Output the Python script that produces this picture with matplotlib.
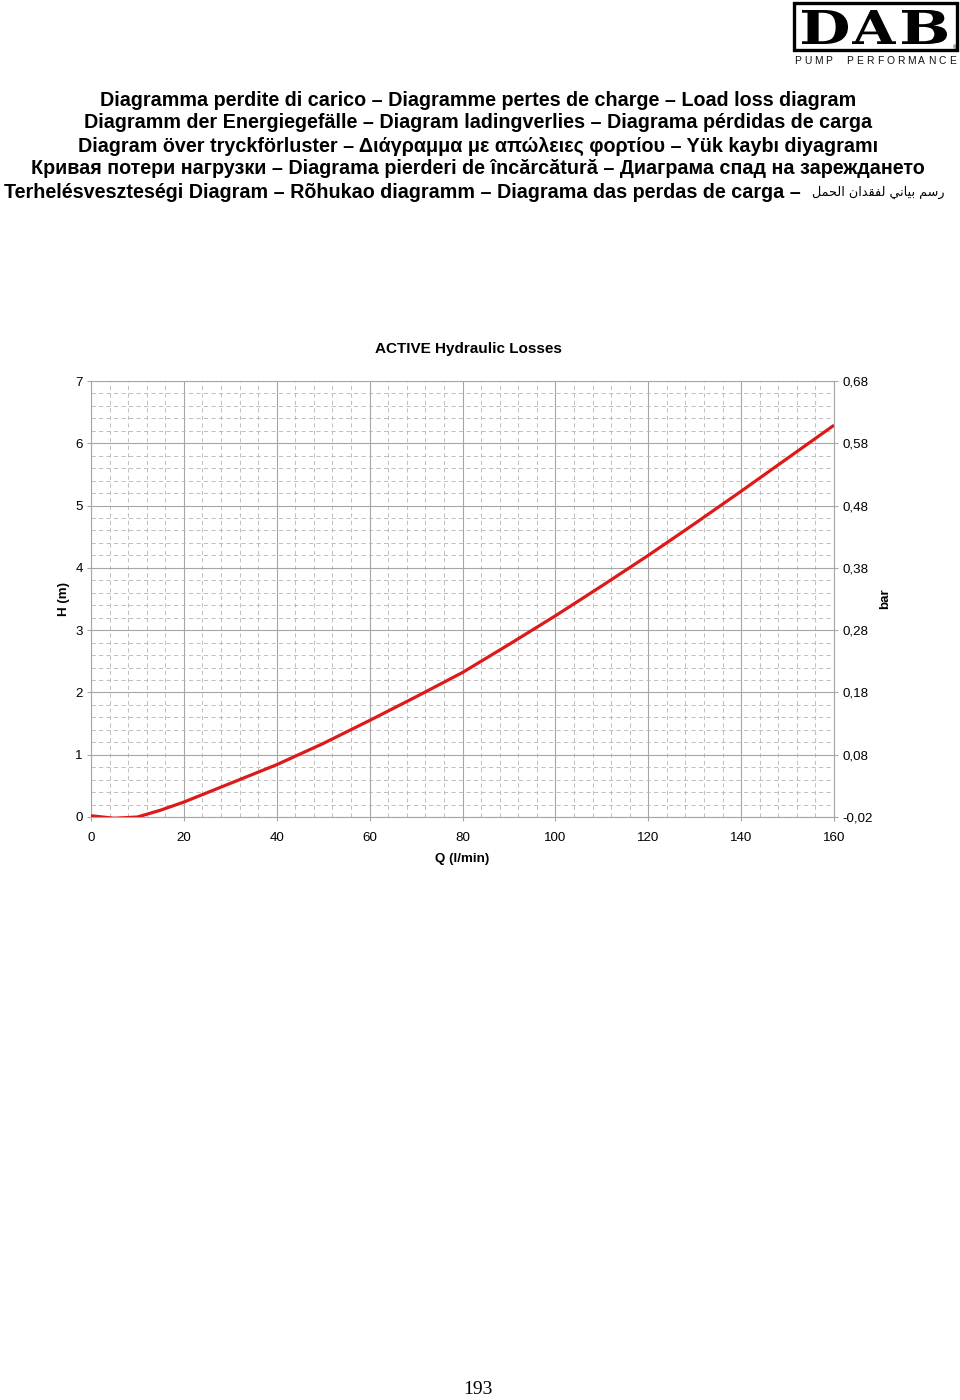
import matplotlib as mpl

mpl.use("Agg")

import matplotlib.pyplot as plt
from matplotlib.font_manager import FontProperties
from matplotlib.patches import PathPatch, Rectangle
from matplotlib.textpath import TextPath
from matplotlib.ticker import MultipleLocator
from matplotlib.transforms import Affine2D

W, H = 960, 1400

# curve (Q in l/min, H in m)
flow = [0, 5, 10, 15, 20, 30, 40, 50, 60, 70, 80, 90, 100, 110, 120, 130, 140, 150, 160]
head = [0.02, -0.02, 0.0, 0.11, 0.24, 0.54, 0.84, 1.18, 1.55, 1.93, 2.32, 2.77, 3.23,
        3.71, 4.20, 4.71, 5.23, 5.76, 6.29]

x_ticks = [0, 20, 40, 60, 80, 100, 120, 140, 160]
y_ticks = [0, 1, 2, 3, 4, 5, 6, 7]
bar_labels = ["-0,02", "0,08", "0,18", "0,28", "0,38", "0,48", "0,58", "0,68"]

title_lines = [
    "Diagramma perdite di carico – Diagramme pertes de charge – Load loss diagram",
    "Diagramm der Energiegefälle – Diagram ladingverlies – Diagrama pérdidas de carga",
    "Diagram över tryckförluster – Διάγραμμα με απώλειες φορτίου – Yük kaybı diyagramı",
    "Кривая потери нагрузки – Diagrama pierderi de încărcătură – Диаграма спад на зареждането",
]
last_line = "Terhelésveszteségi Diagram – Rõhukao diagramm – Diagrama das perdas de carga –"
# Arabic, pre-shaped (presentation forms) in visual order since matplotlib has no bidi
arabic = ("\uFEDE\uFEE4\uFEA4\uFEDF\uFE8D \uFEE5\uFE8D\uFEAA\uFED8\uFED4\uFEDF "
          "\uFEF2\uFEE7\uFE8E\uFEF4\uFE91 \uFEE2\uFEB3\uFEAD")

SANS = ["Liberation Sans", "DejaVu Sans"]
GRID_MAJOR = "#a6a6a6"
GRID_MINOR = "#b4b4b4"
RED = "#dc1a1a"


def px(x):
    return x / W


def py(y):
    return 1 - y / H


fig = plt.figure(figsize=(W / 100, H / 100), dpi=100)

# logo drawn in a pixel-space overlay
logo = fig.add_axes([0, 0, 1, 1], zorder=5)
logo.set_xlim(0, W)
logo.set_ylim(H, 0)
logo.axis("off")
logo.add_patch(Rectangle((794, 3), 163, 47, fill=False, ec="black", lw=2.4))
letter_font = FontProperties(family="DejaVu Serif", weight="bold")
for ch, (x0, x1) in zip("DAB", [(802, 848), (852, 896), (902, 947)]):
    tp = TextPath((0, 0), ch, size=1, prop=letter_font)
    bb = tp.get_extents()
    tr = (Affine2D().translate(-bb.x0, -bb.y0)
          .scale((x1 - x0) / bb.width, -34 / bb.height)
          .translate(x0, 44))
    logo.add_patch(PathPatch(tr.transform_path(tp), fc="black", ec="none"))
logo.text(955, 48, "®", ha="center", va="center", fontsize=4, family=SANS)
for i, ch in enumerate("PUMP PERFORMANCE"):
    logo.text(798 + i * 10.3, 61, ch, ha="center", va="center", fontsize=7.4,
              family=SANS, color="#111111")

# multilingual title
for i, line in enumerate(title_lines):
    fig.text(px(478), py(100 + i * 23), line, ha="center", va="center", fontsize=14.2,
             family=SANS, weight="bold")
fig.text(px(801), py(192), last_line, ha="right", va="center", fontsize=14.2,
         family=SANS, weight="bold")
fig.text(px(812), py(192), arabic, ha="left", va="center", fontsize=9.2,
         family=["DejaVu Sans"])

# chart
ax = fig.add_axes([px(91), py(817), px(834) - px(91), py(381) - py(817)])
ax.plot(flow, head, color=RED, lw=2.3, solid_capstyle="butt", zorder=3)
ax.set_xlim(0, 160)
ax.set_ylim(0, 7)
ax.set_xticks(x_ticks)
ax.set_yticks(y_ticks)
ax.xaxis.set_minor_locator(MultipleLocator(4))
ax.yaxis.set_minor_locator(MultipleLocator(0.2))
ax.grid(which="major", color=GRID_MAJOR, lw=0.8, ls="-")
ax.grid(which="minor", color=GRID_MINOR, lw=0.6, ls=(0, (5, 4)))
ax.set_axisbelow(True)
for s in ax.spines.values():
    s.set_color(GRID_MAJOR)
    s.set_linewidth(0.8)
ax.tick_params(which="major", length=3, color=GRID_MAJOR, labelsize=9.6, pad=3)
ax.tick_params(axis="x", which="major", pad=8)
ax.tick_params(which="minor", length=0)
for lab in ax.get_xticklabels() + ax.get_yticklabels():
    lab.set_family(SANS)
ax.set_xlabel("Q (l/min)", fontsize=9.6, weight="bold", family=SANS, labelpad=6)
ax.set_ylabel("H (m)", fontsize=9.6, weight="bold", family=SANS, labelpad=4)
fig.text(px(468), py(349), "ACTIVE Hydraulic Losses", ha="center", va="center",
         fontsize=11, weight="bold", family=SANS)

ax2 = ax.twinx()
ax2.set_ylim(0, 7)
ax2.set_yticks(y_ticks)
ax2.set_yticklabels(bar_labels, family=SANS)
ax2.tick_params(length=3, color=GRID_MAJOR, labelsize=9.6, pad=3)
for s in ax2.spines.values():
    s.set_visible(False)
ax2.set_ylabel("bar", fontsize=9.6, weight="bold", family=SANS, labelpad=5)

# page number
fig.text(px(478), py(1389), "193", ha="center", va="center", fontsize=14,
         family="Liberation Serif")

fig.savefig("out.png", dpi=100)
